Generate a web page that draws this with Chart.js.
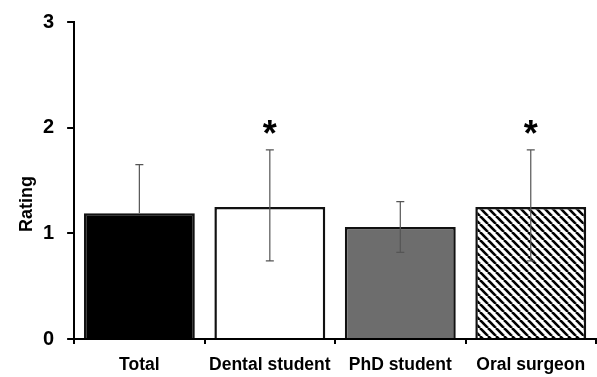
<!DOCTYPE html>
<html>
<head>
<meta charset="utf-8">
<script src="https://cdn.jsdelivr.net/npm/chart.js@4.4.0/dist/chart.umd.min.js"></script>
<style>
  html, body { margin: 0; padding: 0; background: #fff; }
  #wrap { width: 597px; height: 377px; }
</style>
</head>
<body>
<div id="wrap"><canvas id="chart" width="597" height="377"></canvas></div>
<script>
// values
var groups = ["Total", "Dental student", "PhD student", "Oral surgeon"];
var means = [1.19, 1.25, 1.06, 1.25];
var errHigh = [1.65, 1.79, 1.30, 1.79];
var errLow = [null, 0.74, 0.82, 0.74];   // lower whisker of Total is hidden in the black bar
var starred = [false, true, false, true];
var yTicks = [0, 1, 2, 3];

function hatch() {
  var c = document.createElement("canvas");
  c.width = 8; c.height = 8;
  var g = c.getContext("2d");
  g.fillStyle = "#fff";
  g.fillRect(0, 0, 8, 8);
  g.strokeStyle = "#000";
  g.lineWidth = 2.6;
  [-8, 0, 8].forEach(function (o) {
    g.beginPath();
    g.moveTo(o, 0);
    g.lineTo(o + 8, 8);
    g.stroke();
  });
  return g.createPattern(c, "repeat");
}

var ctx = document.getElementById("chart").getContext("2d");
var fills = ["#000000", "#ffffff", "#6d6d6d", hatch()];

// error bars + asterisks on top of the bars
var extras = {
  id: "extras",
  afterDatasetsDraw: function (chart) {
    var g = chart.ctx;
    var x = chart.scales.x, y = chart.scales.y;
    g.save();
    g.strokeStyle = "#555";
    g.lineWidth = 1.2;
    for (var i = 0; i < groups.length; i++) {
      var cx = x.getPixelForValue(i);
      var top = y.getPixelForValue(errHigh[i]);
      var bot = y.getPixelForValue(errLow[i] == null ? means[i] : errLow[i]);
      g.beginPath();
      g.moveTo(cx, top); g.lineTo(cx, bot);
      g.moveTo(cx - 4, top); g.lineTo(cx + 4, top);
      if (errLow[i] != null) { g.moveTo(cx - 4, bot); g.lineTo(cx + 4, bot); }
      g.stroke();
      if (starred[i]) {
        g.fillStyle = "#000";
        g.font = "bold 36px 'Liberation Sans', Arial, sans-serif";
        g.textAlign = "center";
        g.textBaseline = "middle";
        g.fillText("*", cx, top - 14);
      }
    }
    g.restore();
  },
  afterDraw: function (chart) {
    var g = chart.ctx;
    g.save();
    g.fillStyle = "#000";
    g.font = "bold 18px 'Liberation Sans', Arial, sans-serif";
    g.textAlign = "center";
    g.textBaseline = "middle";
    g.translate(27, 204);
    g.rotate(-Math.PI / 2);
    g.fillText("Rating", 0, 0);
    g.restore();
  }
};

new Chart(ctx, {
  type: "bar",
  data: {
    labels: groups,
    datasets: [{
      data: means,
      backgroundColor: fills,
      borderColor: "#111",
      borderWidth: 2.5,
      borderSkipped: "bottom",
      categoryPercentage: 0.85,
      barPercentage: 1.0
    }]
  },
  options: {
    responsive: false,
    animation: false,
    devicePixelRatio: 1,
    layout: { padding: { top: 8, left: 30, right: 1, bottom: -10 } },
    plugins: { legend: { display: false }, tooltip: { enabled: false } },
    scales: {
      x: {
        offset: true,
        grid: { display: true, offset: true, drawOnChartArea: false, drawTicks: true, tickLength: 5, color: "#000", lineWidth: 2 },
        border: { display: true, color: "#000", width: 2 },
        ticks: { color: "#000", padding: 11, maxRotation: 0, font: { family: "'Liberation Sans', Arial, sans-serif", size: 17.5, weight: "bold" } }
      },
      y: {
        min: 0, max: 3,
        afterBuildTicks: function (s) { s.ticks = yTicks.map(function (v) { return { value: v }; }); },
        grid: { display: true, drawOnChartArea: false, drawTicks: true, tickLength: 7, color: "#000", lineWidth: 2 },
        border: { display: true, color: "#000", width: 2 },
        ticks: { color: "#000", padding: 13, font: { family: "'Liberation Sans', Arial, sans-serif", size: 20, weight: "bold", lineHeight: 0.9 } }
      }
    }
  },
  plugins: [extras]
});
</script>
</body>
</html>
